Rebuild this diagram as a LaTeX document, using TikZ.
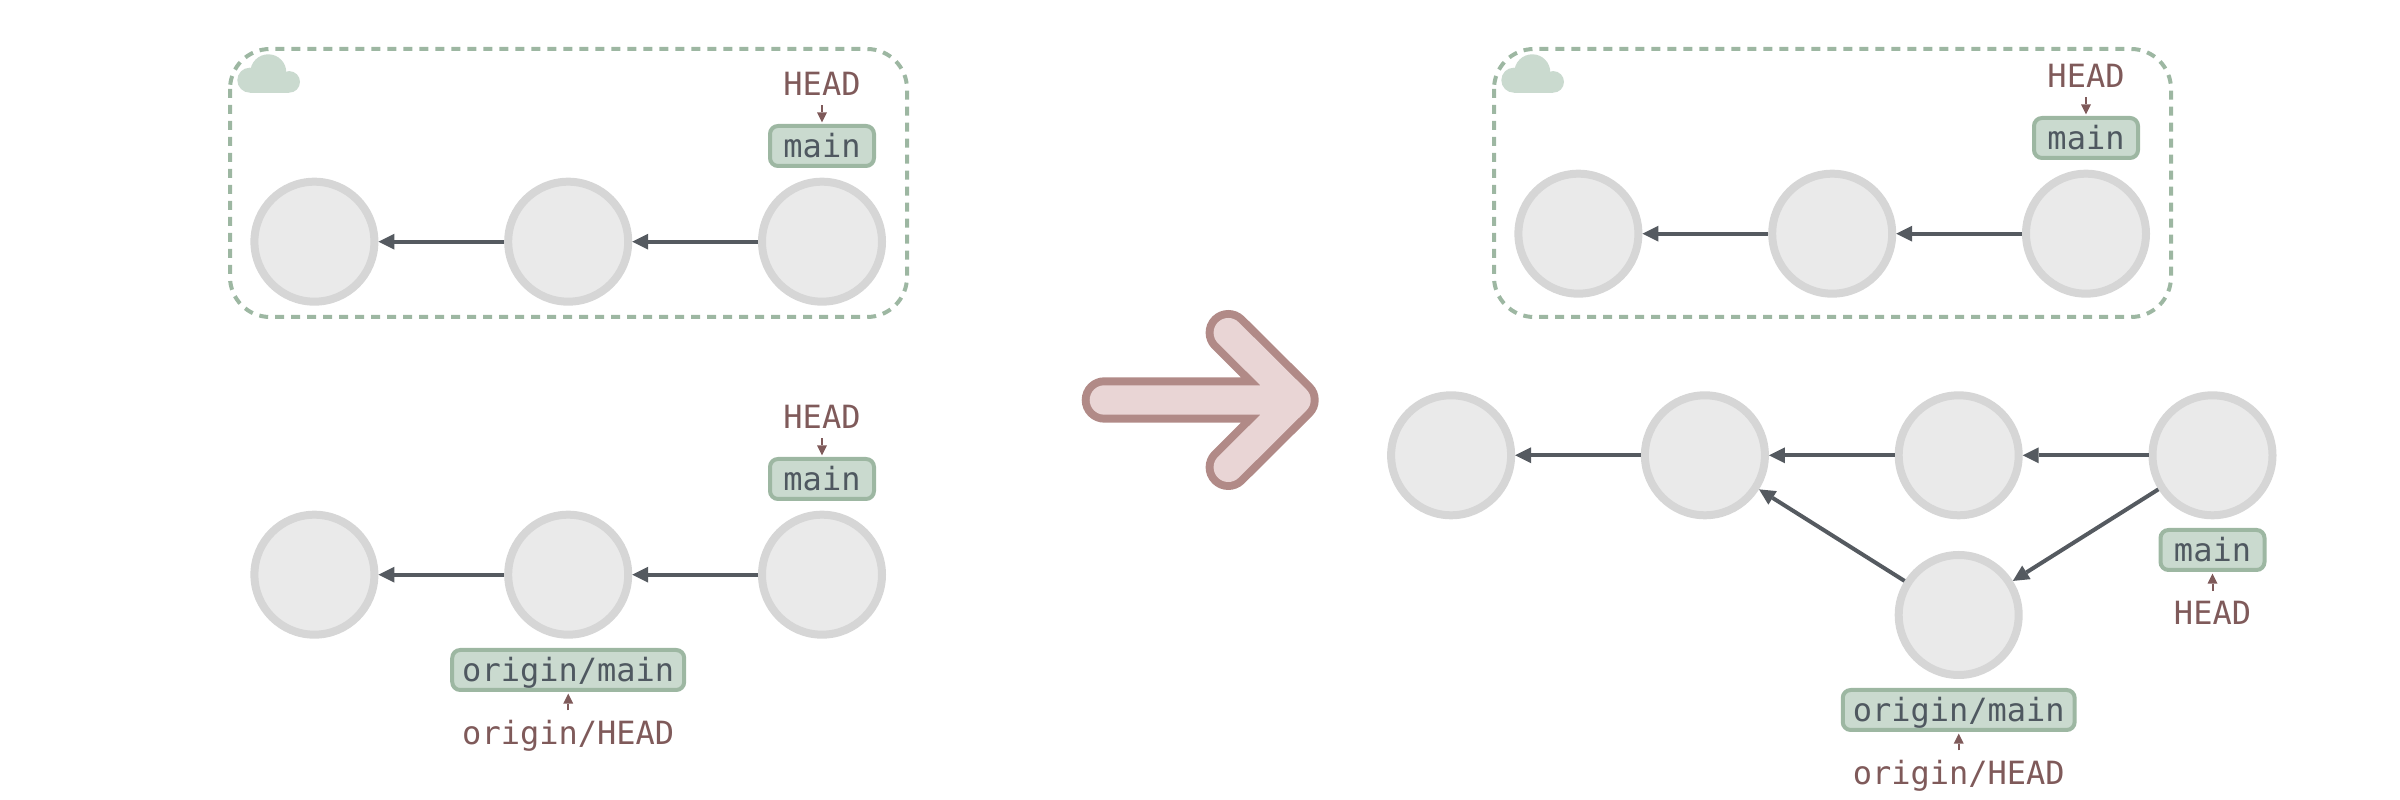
\documentclass[tikz,border=0pt]{standalone}
\usepackage{fontspec}
\setmonofont{DejaVu Sans Mono}
\usetikzlibrary{arrows.meta}
\definecolor{commitfill}{HTML}{EAEAEA}
\definecolor{commitline}{HTML}{D6D6D6}
\definecolor{parentline}{HTML}{555A60}
\definecolor{refill}{HTML}{CADACF}
\definecolor{refline}{HTML}{9DB7A2}
\definecolor{reftext}{HTML}{4F5860}
\definecolor{headtext}{HTML}{7F5A5A}
\definecolor{stepfill}{HTML}{E9D5D5}
\definecolor{stepline}{HTML}{B18A87}
\tikzset{
    commit/.style={circle, draw=commitline, fill=commitfill, line width=2pt, minimum size=30pt, inner sep=0pt},
    parent/.style={draw=parentline, line width=1pt, -{Triangle[length=4pt, width=4pt, line width=0pt]}},
    branch/.style={rectangle, rounded corners=2pt, draw=refline, fill=refill, line width=1pt, text=reftext,
        font=\ttfamily\fontsize{8}{10}\selectfont, inner xsep=2.5pt, inner ysep=0pt,
        minimum width=26pt, minimum height=10pt, text height=7.25pt, text depth=1.25pt},
    headlabel/.style={anchor=base, text=headtext, font=\ttfamily\fontsize{8}{10}\selectfont, inner sep=2.25pt},
    headarrow/.style={draw=headtext, line width=0.5pt, shorten >=0.4pt, -{Triangle[length=2.5pt, width=2.5pt, line width=0pt]}},
    remote/.style={draw=refline, line width=1pt, rounded corners=10pt, dash pattern=on 2.25pt off 1.75pt},
    bigstep/.style={draw=stepline, line width=2pt, double=stepfill, double distance=7.35pt, line cap=round, line join=round},
}
\begin{document}
\begin{tikzpicture}[x=0.25pt, y=-0.25pt]
    \useasboundingbox (0,0) rectangle (2400,800);

    % remote boxes and their clouds
    \foreach \dx in {0,1264} {
        \draw[remote] (230+\dx,49) rectangle (907+\dx,317);
        \fill[refill] (268.3+\dx,72.3) circle (18);
        \fill[refill] (249.8+\dx,80.2) circle (12.5);
        \fill[refill] (289.2+\dx,81.9) circle (10.8);
        \fill[refill] (249.8+\dx,72) rectangle (289.2+\dx,92.7);
    }

    % before: remote
    \node[commit] (ra) at (314.4,241.7) {};
    \node[commit] (rb) at (568.2,241.7) {};
    \node[commit] (rc) at (822,241.7) {};
    \draw[parent] (rb) -- (ra);
    \draw[parent] (rc) -- (rb);
    \node[branch] (rmain) at (822,146) {main};
    \node[headlabel] (rhead) at (822,95.7) {HEAD};
    \draw[headarrow] (rhead.south) -- (rmain.north);

    % before: local
    \node[commit] (la) at (314.4,574.7) {};
    \node[commit] (lb) at (568.2,574.7) {};
    \node[commit] (lc) at (822,574.7) {};
    \draw[parent] (lb) -- (la);
    \draw[parent] (lc) -- (lb);
    \node[branch] (lmain) at (822,479) {main};
    \node[headlabel] (lhead) at (822,428.7) {HEAD};
    \draw[headarrow] (lhead.south) -- (lmain.north);
    \node[branch] (lorigin) at (568.2,670) {origin/main};
    \node[headlabel] (lorighead) at (568.2,744.5) {origin/HEAD};
    \draw[headarrow] (lorighead.north) -- (lorigin.south);

    % big arrow
    \draw[bigstep] (1228.3,332.7) -- (1296,400) -- (1228.3,467.3) (1104.4,400) -- (1296,400);

    % after: remote
    \node[commit] (sa) at (1578.4,233.7) {};
    \node[commit] (sb) at (1832.2,233.7) {};
    \node[commit] (sc) at (2086,233.7) {};
    \draw[parent] (sb) -- (sa);
    \draw[parent] (sc) -- (sb);
    \node[branch] (smain) at (2086,138) {main};
    \node[headlabel] (shead) at (2086,87.7) {HEAD};
    \draw[headarrow] (shead.south) -- (smain.north);

    % after: local
    \node[commit] (ta) at (1451.1,455.3) {};
    \node[commit] (tb) at (1704.9,455.3) {};
    \node[commit] (tc) at (1958.7,455.3) {};
    \node[commit] (td) at (2212.5,455.3) {};
    \node[commit] (te) at (1958.7,615) {};
    \draw[parent] (tb) -- (ta);
    \draw[parent] (tc) -- (tb);
    \draw[parent] (td) -- (tc);
    \draw[parent] (td) -- (te);
    \draw[parent] (te) -- (tb);
    \node[branch] (tmain) at (2212.5,550) {main};
    \node[headlabel] (thead) at (2212.5,624.2) {HEAD};
    \draw[headarrow] (thead.north) -- (tmain.south);
    \node[branch] (torigin) at (1958.7,710) {origin/main};
    \node[headlabel] (torighead) at (1958.7,784.5) {origin/HEAD};
    \draw[headarrow] (torighead.north) -- (torigin.south);
\end{tikzpicture}
\end{document}
